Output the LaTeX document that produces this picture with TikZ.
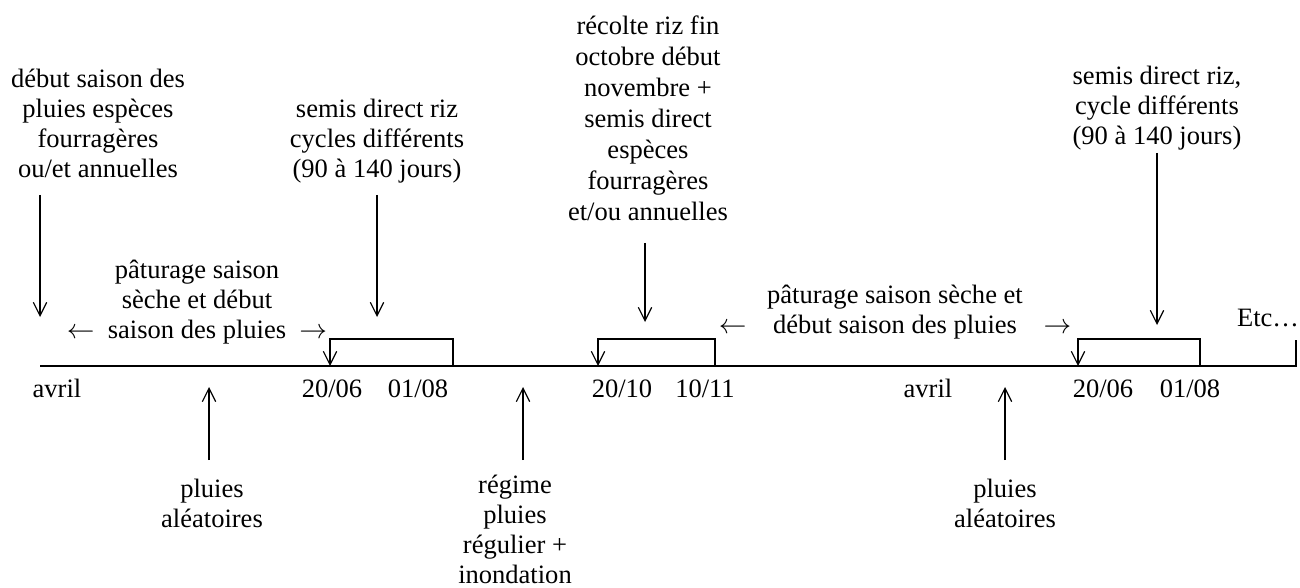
\documentclass[tikz,border=0pt]{standalone}
\usepackage{fontspec}
\setmainfont{Liberation Serif}
\usetikzlibrary{positioning,arrows.meta}
\newcommand{\txtsize}{\fontsize{19.9}{22.5}\selectfont}

\tikzset{
 lbl/.style={font=\txtsize, inner sep=0pt, align=center, anchor=base},
 tip/.style={-{Straight Barb[length=10pt,width=10pt]}, line width=0.9pt},
 axis/.style={line width=2.1pt},
}

\begin{document}
\begin{tikzpicture}[x=0.75pt, y=-0.75pt]
 \useasboundingbox (0,0) rectangle (1300,588);
 % timeline
 \coordinate (start) at (40,366);
 \coordinate (stop) at (1296,366);
 \coordinate (stoptop) at (1296,340);
 \draw [axis] (start) -- (stop) -- (stoptop);
 % brackets
 \coordinate (brk) at (0,339);
 \coordinate (s1) at (330,366);
 \coordinate (e1) at (453,366);
 \coordinate (s2) at (598,366);
 \coordinate (e2) at (715,366);
 \coordinate (s3) at (1078,366);
 \coordinate (e3) at (1200,366);
 \draw [tip, {Straight Barb[length=10pt,width=10pt]}-] (s1) |- (e1 |- brk) -- (e1);
 \draw [tip, {Straight Barb[length=10pt,width=10pt]}-] (s2) |- (e2 |- brk) -- (e2);
 \draw [tip, {Straight Barb[length=10pt,width=10pt]}-] (s3) |- (e3 |- brk) -- (e3);
 % dates
 \node [lbl] (avril1) at (57,397) {avril};
 \node [lbl] (d2006a) at (332,397) {20/06};
 \node [lbl] (d0108a) at (418,397) {01/08};
 \node [lbl] (d2010) at (622,397) {20/10};
 \node [lbl] (d1011) at (705,397) {10/11};
 \node [lbl] (avril2) at (928,397) {avril};
 \node [lbl] (d2006b) at (1103,397) {20/06};
 \node [lbl] (d0108b) at (1190,397) {01/08};
 \node [lbl] (etc) at (1268,326) {Etc…};
 % events above (base = last line)
 \node [lbl] (debut) at (98,178) {début saison des\\pluies espèces\\fourragères\\ou/et annuelles};
 \node [lbl] (semisa) at (377,178) {semis direct riz\\cycles différents\\(90 à 140 jours)};
 \node [lbl, font=\fontsize{19.9}{23.2}\selectfont] (recolte) at (648,220)
  {récolte riz fin\\octobre début\\novembre +\\semis direct\\espèces\\fourragères\\et/ou annuelles};
 \node [lbl] (semisb) at (1157,145) {semis direct riz,\\cycle différents\\(90 à 140 jours)};
 \node [lbl] (pata) at (197,338)
  {pâturage saison\\sèche et début\\$\leftarrow$\hspace{0.5em}saison des pluies\hspace{0.5em}$\rightarrow$};
 \node [lbl] (patb) at (895,333)
  {pâturage saison sèche et\\$\leftarrow$\hspace{1em}début saison des pluies\hspace{1em}$\rightarrow$};
 \coordinate (a1) at (40,195);
 \coordinate (a1e) at (40,317);
 \coordinate (a2) at (377,195);
 \coordinate (a2e) at (377,317);
 \coordinate (a3) at (645,243);
 \coordinate (a3e) at (645,322);
 \coordinate (a4) at (1157,153);
 \coordinate (a4e) at (1157,325);
 \draw [tip] (a1) -- (a1e);
 \draw [tip] (a2) -- (a2e);
 \draw [tip] (a3) -- (a3e);
 \draw [tip] (a4) -- (a4e);
 % events below
 \node [lbl] (pluiesa) at (212,527) {pluies\\aléatoires};
 \node [lbl] (regime) at (515,583) {régime\\pluies\\régulier +\\inondation};
 \node [lbl] (pluiesb) at (1005,527) {pluies\\aléatoires};
 \coordinate (u1) at (209,460);
 \coordinate (u1e) at (209,387);
 \coordinate (u2) at (523,460);
 \coordinate (u2e) at (523,387);
 \coordinate (u3) at (1005,460);
 \coordinate (u3e) at (1005,387);
 \draw [tip] (u1) -- (u1e);
 \draw [tip] (u2) -- (u2e);
 \draw [tip] (u3) -- (u3e);
\end{tikzpicture}
\end{document}
